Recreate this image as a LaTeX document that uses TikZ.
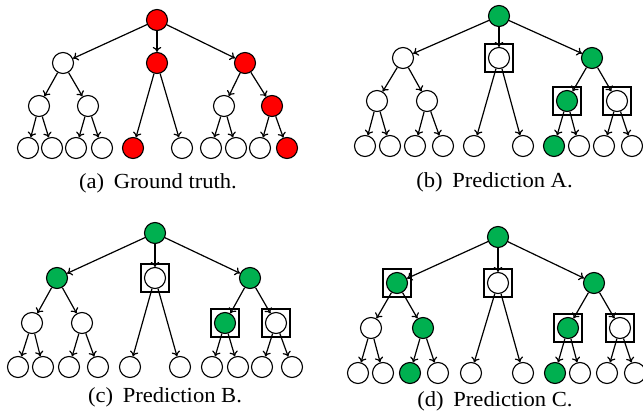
\documentclass[tikz,border=0pt]{standalone}
\usepackage{fontspec}
\usetikzlibrary{arrows.meta}
\newfontfamily\capfont[FakeStretch=1.05]{Liberation Serif}
\definecolor{gtred}{RGB}{255,0,0}
\definecolor{prgreen}{RGB}{0,176,80}
\tikzset{
  nd/.style={circle,draw=black,line width=1.1pt,minimum size=21pt,inner sep=0pt,fill=white},
  rd/.style={nd,fill=gtred},
  gr/.style={nd,fill=prgreen},
  bx/.style={draw=black,line width=2.3pt,minimum size=28.5pt,inner sep=0pt},
  edge/.style={line width=1.2pt,-{To[length=5pt,width=8.5pt]}},
  captxt/.style={font=\capfont\fontsize{21.5}{24}\selectfont,inner sep=0pt}
}
\newcommand\tedges[1]{%
  \foreach \p/\c in {r/L,r/M,r/R,L/LL,L/LR,R/RL,R/RR,LL/LLa,LL/LLb,LR/LRa,LR/LRb,M/Ma,M/Mb,RL/RLa,RL/RLb,RR/RRa,RR/RRb}
    {\draw[edge] (#1\p) -- (#1\c);}}
\begin{document}
\begin{tikzpicture}[x=1pt,y=-1pt]
\useasboundingbox (0,0) rectangle (643,415);
% ---------- (a) ----------
\node[rd] (ar) at (157,20) {};
\node[nd] (aL) at (63,63) {};
\node[rd] (aM) at (157,63) {};
\node[rd] (aR) at (245,63) {};
\node[nd] (aLL) at (39,106) {};
\node[nd] (aLR) at (88,106) {};
\node[nd] (aRL) at (224,106) {};
\node[rd] (aRR) at (272,106) {};
\node[nd] (aLLa) at (28,148) {};
\node[nd] (aLLb) at (52,148) {};
\node[nd] (aLRa) at (76,148) {};
\node[nd] (aLRb) at (102,148) {};
\node[rd] (aMa) at (133,148) {};
\node[nd] (aMb) at (182,148) {};
\node[nd] (aRLa) at (211,148) {};
\node[nd] (aRLb) at (236,148) {};
\node[nd] (aRRa) at (260,148) {};
\node[rd] (aRRb) at (287,148) {};
\tedges{a}
\node[captxt] (capa) at (158,183) {(a)\hspace{0.45em}Ground truth.};
% ---------- (b) ----------
\node[gr] (br) at (499,16) {};
\node[nd] (bL) at (403,58) {};
\node[nd] (bM) at (499,58) {};
\node[gr] (bR) at (592,58) {};
\node[nd] (bLL) at (377,101) {};
\node[nd] (bLR) at (427,101) {};
\node[gr] (bRL) at (567,101) {};
\node[nd] (bRR) at (617,101) {};
\node[nd] (bLLa) at (365,146) {};
\node[nd] (bLLb) at (390,146) {};
\node[nd] (bLRa) at (415,146) {};
\node[nd] (bLRb) at (443,146) {};
\node[nd] (bMa) at (474,146) {};
\node[nd] (bMb) at (523,146) {};
\node[gr] (bRLa) at (554,146) {};
\node[nd] (bRLb) at (579,146) {};
\node[nd] (bRRa) at (604,146) {};
\node[nd] (bRRb) at (632,146) {};
\node[bx] (bMbox) at (bM) {};
\node[bx] (bRLbox) at (bRL) {};
\node[bx] (bRRbox) at (bRR) {};
\tedges{b}
\node[captxt] (capb) at (494.5,182) {(b)\hspace{0.45em}Prediction A.};
% ---------- (c) ----------
\node[gr] (cr) at (155,233) {};
\node[gr] (cL) at (57,278) {};
\node[nd] (cM) at (155,278) {};
\node[gr] (cR) at (250,278) {};
\node[nd] (cLL) at (32,323) {};
\node[nd] (cLR) at (82,323) {};
\node[gr] (cRL) at (225,323) {};
\node[nd] (cRR) at (276,323) {};
\node[nd] (cLLa) at (18,367) {};
\node[nd] (cLLb) at (43,367) {};
\node[nd] (cLRa) at (69,367) {};
\node[nd] (cLRb) at (98,367) {};
\node[nd] (cMa) at (130,367) {};
\node[nd] (cMb) at (180,367) {};
\node[nd] (cRLa) at (212,367) {};
\node[nd] (cRLb) at (238,367) {};
\node[nd] (cRRa) at (262,367) {};
\node[nd] (cRRb) at (292,367) {};
\node[bx] (cMbox) at (cM) {};
\node[bx] (cRLbox) at (cRL) {};
\node[bx] (cRRbox) at (cRR) {};
\tedges{c}
\node[captxt] (capc) at (165,397) {(c)\hspace{0.45em}Prediction B.};
% ---------- (d) ----------
\node[gr] (dr) at (498,237) {};
\node[gr] (dL) at (397,283) {};
\node[nd] (dM) at (498,283) {};
\node[gr] (dR) at (594,283) {};
\node[nd] (dLL) at (371,328) {};
\node[gr] (dLR) at (423,328) {};
\node[gr] (dRL) at (568,328) {};
\node[nd] (dRR) at (620,328) {};
\node[nd] (dLLa) at (358,373) {};
\node[nd] (dLLb) at (383,373) {};
\node[gr] (dLRa) at (410,373) {};
\node[nd] (dLRb) at (438,373) {};
\node[nd] (dMa) at (471,373) {};
\node[nd] (dMb) at (523,373) {};
\node[gr] (dRLa) at (555,373) {};
\node[nd] (dRLb) at (580,373) {};
\node[nd] (dRRa) at (607,373) {};
\node[nd] (dRRb) at (635,373) {};
\node[bx] (dLbox) at (dL) {};
\node[bx] (dMbox) at (dM) {};
\node[bx] (dRLbox) at (dRL) {};
\node[bx] (dRRbox) at (dRR) {};
\tedges{d}
\node[captxt] (capd) at (495,401) {(d)\hspace{0.45em}Prediction C.};
\end{tikzpicture}
\end{document}
